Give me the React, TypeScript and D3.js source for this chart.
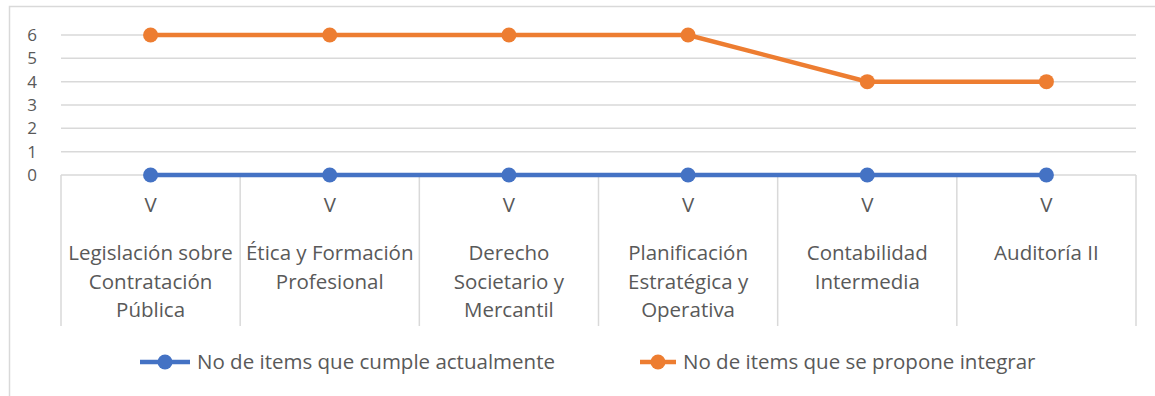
import React from "react";
import * as d3 from "d3";

const width = 1155;
const height = 396;
const margin = { top: 35, right: 19, bottom: 221, left: 61 };

const levels = ["V", "V", "V", "V", "V", "V"];
const categories = [
  ["Legislación sobre", "Contratación", "Pública"],
  ["Ética y Formación", "Profesional"],
  ["Derecho", "Societario y", "Mercantil"],
  ["Planificación", "Estratégica y", "Operativa"],
  ["Contabilidad", "Intermedia"],
  ["Auditoría II"],
];
const cumple = [0, 0, 0, 0, 0, 0];
const propone = [6, 6, 6, 6, 4, 4];
const yTicks = [0, 1, 2, 3, 4, 5, 6];

const series = [
  { name: "No de items que cumple actualmente", values: cumple, color: "#4472C4" },
  { name: "No de items que se propone integrar", values: propone, color: "#ED7D31" },
];

const textColor = "#595959";
const font = "'Open Sans', sans-serif";
const fs = 20.5;

export default function App() {
  const x = d3
    .scaleBand<number>()
    .domain(d3.range(categories.length))
    .range([margin.left, width - margin.right]);
  const y = d3
    .scaleLinear()
    .domain([0, 6])
    .range([height - margin.bottom, margin.top]);

  const line = d3
    .line<number>()
    .x((_, i) => (x(i) as number) + x.bandwidth() / 2)
    .y((d) => y(d));

  const y0 = y(0);
  const legend = [
    { x1: 140, x2: 190, tx: 197 },
    { x1: 640, x2: 676, tx: 683 },
  ];

  return (
    <svg width={width} height={height} style={{ position: "absolute", left: 0, top: 0 }}>
      <rect x={0} y={0} width={width} height={height} fill="#fff" />
      <rect x={9.5} y={6.5} width={1160} height={400} fill="none" stroke="#d9d9d9" strokeWidth={1.5} />
      {yTicks.map((t) => (
        <g key={t}>
          <line x1={margin.left} x2={width - margin.right} y1={y(t)} y2={y(t)} stroke="#d9d9d9" strokeWidth={1.5} />
          <text x={32} y={y(t)} dy="0.35em" textAnchor="middle" fontFamily={font} fontSize={17} fill={textColor}>
            {t}
          </text>
        </g>
      ))}
      {d3.range(categories.length + 1).map((i) => {
        const xx = i < categories.length ? (x(i) as number) : width - margin.right;
        return <line key={i} x1={xx} x2={xx} y1={y0} y2={326} stroke="#d9d9d9" strokeWidth={1.5} />;
      })}
      {categories.map((lines, i) => {
        const cx = (x(i) as number) + x.bandwidth() / 2;
        return (
          <g key={i} fontFamily={font} fontSize={fs} fill={textColor} textAnchor="middle">
            <text x={cx} y={205} dy="0.35em">{levels[i]}</text>
            {lines.map((l, j) => (
              <text key={j} x={cx} y={253 + j * 28.5} dy="0.35em">{l}</text>
            ))}
          </g>
        );
      })}
      {series.map((s) => (
        <g key={s.name}>
          <path d={line(s.values) || ""} fill="none" stroke={s.color} strokeWidth={4.5} />
          {s.values.map((v, i) => (
            <circle key={i} cx={(x(i) as number) + x.bandwidth() / 2} cy={y(v)} r={7.5} fill={s.color} />
          ))}
        </g>
      ))}
      {series.map((s, i) => (
        <g key={s.name}>
          <line x1={legend[i].x1} x2={legend[i].x2} y1={362} y2={362} stroke={s.color} strokeWidth={4.5} />
          <circle cx={(legend[i].x1 + legend[i].x2) / 2} cy={362} r={7.5} fill={s.color} />
          <text x={legend[i].tx} y={362} dy="0.35em" fontFamily={font} fontSize={fs} fill={textColor}>
            {s.name}
          </text>
        </g>
      ))}
    </svg>
  );
}
